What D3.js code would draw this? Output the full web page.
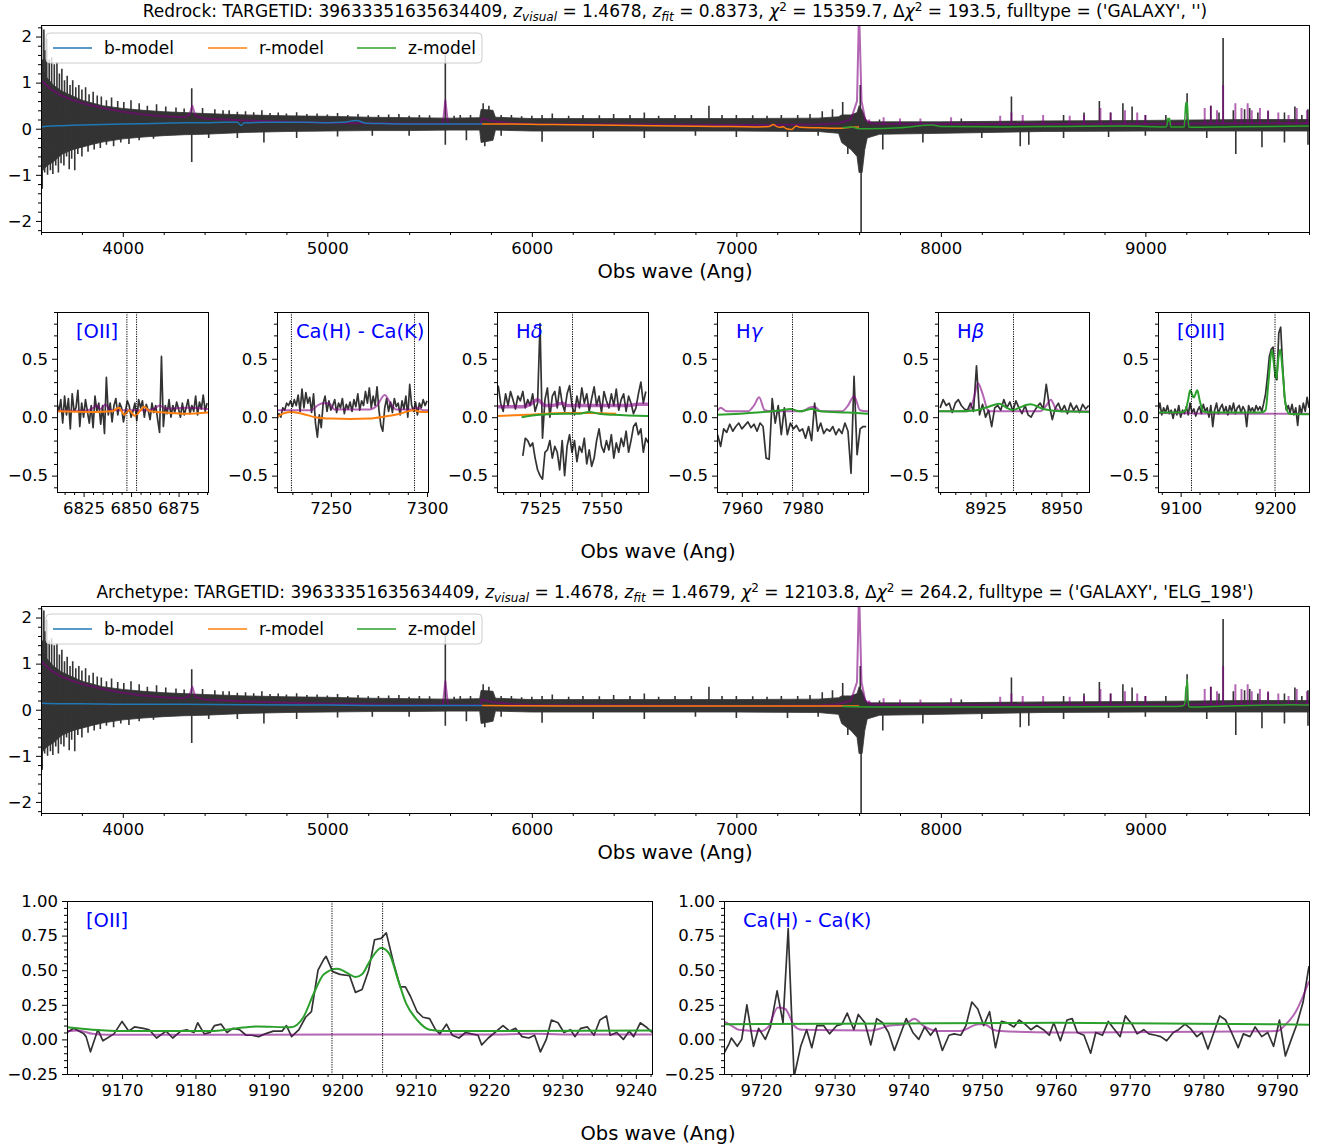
<!DOCTYPE html>
<html><head><meta charset="utf-8">
<script src="https://cdn.jsdelivr.net/npm/d3@7"></script>
<style>
body{margin:0;background:#fff;}
svg text{font-family:"DejaVu Sans",sans-serif;}
</style></head><body>
<svg id="c" width="1325" height="1147"></svg>
<script>
// ---------------- DATA ----------------
// Full-range spectrum (shared by both overview panels)
const bandWave = [3600,3630,3660,3700,3750,3800,3850,3900,4000,4100,4200,4300,4400,4600,4800,5000,5200,5400,5600,5745,5752,5810,5822,6000,6500,7000,7400,7500,7515,7560,7590,7600,7615,7628,7640,7700,8000,8500,9000,9500,9800];
const bandHi = [1.35,1.1,0.95,0.82,0.72,0.62,0.56,0.5,0.44,0.4,0.37,0.35,0.33,0.3,0.28,0.27,0.25,0.24,0.23,0.24,0.42,0.4,0.25,0.22,0.22,0.22,0.23,0.26,0.3,0.3,0.35,0.5,0.4,0.25,0.15,0.15,0.15,0.17,0.18,0.2,0.2];
const bandLo = [-0.95,-0.8,-0.72,-0.56,-0.46,-0.4,-0.34,-0.29,-0.22,-0.18,-0.15,-0.13,-0.12,-0.08,-0.06,-0.05,-0.04,-0.04,-0.03,-0.03,-0.3,-0.25,-0.03,-0.05,-0.05,-0.05,-0.06,-0.1,-0.3,-0.45,-0.6,-0.95,-0.95,-0.45,-0.2,-0.12,-0.1,-0.06,-0.05,-0.05,-0.05];
const blackSpikes = [[3603,2.2],[3608,1.5],[3614,2.15],[3622,1.7],[3628,1.95],[3640,1.5],[3652,1.55],[3665,1.4],[3678,1.45],[3690,1.2],[3702,1.3],[3715,1.05],[3728,1.15],[3742,0.95],[3755,1.05],[3770,0.9],[3785,0.95],[3800,0.85],[3818,0.9],[3835,0.75],[3855,0.8],[3875,0.72],[3895,0.7],[3920,0.62],[3945,0.68],[3975,0.6],[4005,0.58],[4040,0.62],[4080,0.55],[4120,0.5],[4165,0.53],[4210,0.48],[4260,0.46],[4300,0.44],[4337,0.88],[4390,0.45],[4450,0.42],[4490,0.4],[4520,0.4],[4560,0.37],[4600,0.38],[4640,0.36],[4680,0.4],[4720,0.34],[4760,0.35],[4800,0.33],[4850,0.36],[4900,0.32],[4950,0.33],[5000,0.31],[5050,0.34],[5100,0.3],[5150,0.32],[5200,0.29],[5250,0.3],[5300,0.31],[5350,0.32],[5400,0.28],[5450,0.3],[5500,0.29],[5577,1.72],[5620,0.28],[5650,0.3],[5700,0.3],[5762,0.55],[5790,0.5],[5850,0.3],[5900,0.3],[5950,0.27],[6000,0.28],[6050,0.3],[6100,0.33],[6180,0.28],[6250,0.3],[6330,0.29],[6400,0.32],[6480,0.3],[6550,0.35],[6620,0.28],[6700,0.3],[6780,0.3],[6866,0.5],[6930,0.3],[7000,0.3],[7080,0.29],[7150,0.28],[7220,0.3],[7300,0.3],[7360,0.32],[7420,0.38],[7470,0.42],[7520,0.58],[7606,0.95],[7700,0.2],[8100,0.22],[8345,0.7],[8600,0.3],[8700,0.35],[8775,0.6],[8830,0.35],[8890,0.55],[8935,0.48],[9000,0.3],[9100,0.3],[9204,0.77],[9320,0.5],[9360,0.35],[9380,1.97],[9430,0.4],[9485,0.42],[9510,0.45],[9550,0.35],[9600,0.38],[9680,0.35],[9731,0.48],[9765,0.3],[9795,0.42],
 [3606,-1.3],[3618,-0.95],[3632,-1.0],[3646,-0.9],[3658,-0.98],[3672,-0.8],[3685,-0.95],[3698,-0.75],[3712,-0.8],[3725,-0.6],[3738,-0.88],[3750,-0.65],[3765,-0.9],[3780,-0.55],[3800,-0.6],[3830,-0.5],[3860,-0.45],[3890,-0.42],[3920,-0.35],[3955,-0.38],[3990,-0.3],[4030,-0.33],[4080,-0.25],[4150,-0.22],[4337,-0.72],[4420,-0.2],[4560,-0.2],[4690,-0.3],[4850,-0.2],[5050,-0.17],[5220,-0.15],[5400,-0.15],[5577,-0.35],[5680,-0.25],[5770,-0.38],[5850,-0.15],[6050,-0.28],[6300,-0.2],[6550,-0.2],[6800,-0.15],[7000,-0.18],[7250,-0.18],[7400,-0.15],[7545,-0.55],[7610,-2.3],[7716,-0.45],[7912,-0.3],[8200,-0.2],[8388,-0.38],[8430,-0.35],[8600,-0.2],[8820,-0.18],[9000,-0.15],[9300,-0.2],[9442,-0.55],[9570,-0.4],[9680,-0.3],[9795,-0.35]];
const purpleWave = [3600,3650,3700,3750,3800,3900,4000,4100,4200,4300,4325,4340,4355,4400,4500,4600,4800,5000,5200,5400,5565,5577,5590,5750,5757,5800,5900,6000,6500,7000,7400,7500,7560,7590,7600,7612,7630,7660,7700,8000,8300,9000,9800];
const purpleFlux = [1.05,0.85,0.72,0.63,0.56,0.45,0.37,0.31,0.27,0.25,0.3,0.5,0.28,0.22,0.2,0.18,0.15,0.13,0.12,0.11,0.11,0.62,0.11,0.1,0.22,0.17,0.12,0.1,0.09,0.08,0.09,0.12,0.2,0.6,2.6,0.6,0.2,0.12,0.11,0.1,0.1,0.11,0.12];
const purpleSpikes = [[7650,0.2],[7720,0.25],[7800,0.22],[7900,0.22],[8050,0.25],[8290,0.28],[8345,0.35],[8400,0.3],[8500,0.3],[8630,0.28],[8700,0.3],[8780,0.45],[8830,0.35],[8900,0.4],[8960,0.35],[9000,0.3],[9290,0.45],[9320,0.5],[9350,0.4],[9380,0.95],[9440,0.55],[9470,0.45],[9500,0.55],[9520,0.4],[9560,0.45],[9600,0.4],[9650,0.35],[9700,0.3],[9740,0.45],[9790,0.4]];

// Redrock models
const rrBlueWave = [3600,3650,3700,3800,3900,4000,4100,4200,4300,4400,4500,4560,4578,4595,4700,4800,4900,5000,5080,5140,5190,5300,5500,5757];
const rrBlueFlux = [0.04,0.06,0.065,0.08,0.09,0.1,0.11,0.12,0.13,0.13,0.14,0.14,0.07,0.13,0.14,0.14,0.14,0.13,0.14,0.18,0.12,0.11,0.1,0.1];
const rrRedWave = [5757,5900,6100,6300,6500,6700,6900,7100,7160,7180,7200,7215,7228,7245,7270,7293,7310,7400,7500,7560,7600];
const rrRedFlux = [0.1,0.1,0.09,0.08,0.07,0.06,0.05,0.04,0.05,0.09,0.04,0.03,0.045,0.0,-0.015,0.06,0.03,0.02,0.01,0.03,0.04];
const rrGreenWave = [7520,7560,7600,7650,7800,7960,8000,8300,8600,8900,9100,9106,9110,9114,9118,9124,9190,9195,9198,9201.5,9205,9209,9214,9400,9600,9800];
const rrGreenFlux = [0.02,0.04,0.0,0.0,0.02,0.08,0.05,0.04,0.05,0.06,0.04,0.08,0.23,0.17,0.23,0.04,0.04,0.4,0.57,0.33,0.57,0.2,0.03,0.04,0.05,0.06];
// Archetype models
const arBlueWave = [3600,3700,3800,4000,4300,4600,5000,5400,5757];
const arBlueFlux = [0.14,0.13,0.13,0.12,0.12,0.11,0.1,0.09,0.09];
const arRedWave = [5757,6200,6800,7300,7600];
const arRedFlux = [0.09,0.08,0.08,0.08,0.08];
const arGreenWave = [7520,7700,8000,8500,9000,9150,9188,9194,9198.5,9202,9205.3,9210,9214,9400,9600,9715,9800];
const arGreenFlux = [0.07,0.06,0.06,0.06,0.07,0.07,0.09,0.16,0.51,0.45,0.66,0.14,0.06,0.08,0.1,0.11,0.105];

const mainXTicks = [4000,5000,6000,7000,8000,9000];
const mainYTicks = [-2,-1,0,1,2];

// Zoom panels (Redrock, z = 0.8373)
const p1Black = [0.12,0.05,0.15,-0.05,0.18,0.02,0.16,-0.1,0.2,0.05, 0.08,0.23,-0.08,0.12,0.0,0.15,0.05,-0.05,0.1,-0.09, 0.18,0.05,0.12,-0.06,0.1,-0.14,0.34,0.02,0.12,-0.04, 0.1,0.16,0.02,0.12,0.08,-0.04,0.05,0.14,0.1,0.0, 0.05,0.12,-0.03,0.15,0.08,0.14,0.0,0.11,0.06,-0.02, 0.12,0.04,0.1,-0.02,-0.13,0.52,-0.08,0.1,0.03,0.15, 0.0,0.1,0.04,0.13,0.07,0.0,0.12,0.02,0.08,0.15, 0.03,0.1,0.05,0.18,0.02,0.13,0.07,0.19,0.05,0.12];
const p1PurpleWave = [6811,6826,6829,6832,6834,6836.5,6839,6858,6862,6865,6868,6880,6890.5];
const p1PurpleFlux = [0.055,0.055,0.07,0.1,0.07,0.11,0.06,0.06,0.07,0.1,0.075,0.08,0.07];
const p1OrangeWave = [6811,6830,6840,6843.5,6846.5,6849,6852,6854,6857,6860,6868,6879,6890.5];
const p1OrangeFlux = [0.05,0.045,0.05,0.08,0.02,0.06,0.01,0.04,0.09,0.05,0.04,0.03,0.04];

const p2Black = [-0.02,0.03,0.0,0.08,0.06,0.12,0.1,0.14,0.09,0.15, 0.1,0.19,0.05,0.24,0.08,0.21,0.12,0.17,0.04,0.2, -0.05,-0.17,0.02,-0.09,0.12,0.18,0.05,0.14,0.06,0.1, 0.15,0.04,0.12,0.08,0.16,0.03,0.11,0.07,0.13,0.05, 0.15,0.09,0.2,0.06,0.14,0.1,0.22,0.12,0.25,0.08, 0.18,0.1,0.26,0.06,-0.07,-0.12,0.08,0.16,0.05,0.13, 0.04,0.16,0.09,0.12,0.02,0.14,0.07,0.18,0.0,0.28, 0.1,0.05,0.13,0.02,0.12,0.08,0.15,0.1,0.14];
const p2PurpleWave = [7222,7240,7243,7246,7249,7252,7270,7274,7278,7281,7284,7292,7295,7298,7300.5];
const p2PurpleFlux = [0.06,0.06,0.1,0.12,0.12,0.065,0.065,0.1,0.19,0.12,0.065,0.065,0.08,0.06,0.06];
const p2OrangeWave = [7222,7225,7229,7235,7242,7250,7260,7270,7278,7286,7293,7297,7300.5];
const p2OrangeFlux = [0.0,0.03,0.045,0.03,0.0,-0.012,-0.015,-0.012,0.005,0.03,0.06,0.045,0.045];

const p3BlackA = [0.27,0.12,0.05,0.2,0.1,0.22,0.15,0.07,0.18,0.14, 0.22,0.08,0.15,0.1,0.2,0.05,0.12,0.8,-0.18,0.15, 0.25,0.0,0.18,0.22,0.08,0.26,0.12,0.05,0.2,0.27, 0.1,0.02,0.18,0.08,0.25,0.12,0.2,0.05,0.16,0.26, 0.1,0.18,0.04,0.22,0.14,0.08,0.2,0.1,0.24,0.06, 0.15,0.2,0.05,0.18,0.12,0.03,0.08,0.2,0.3,0.12,0.22];
const p3BlackB = [-0.33,-0.18,-0.2,-0.25,-0.22,-0.35,-0.45,-0.5,-0.53,-0.3, -0.28,-0.2,-0.35,-0.25,-0.3,-0.45,-0.2,-0.5,-0.25,-0.15, -0.3,-0.2,-0.38,-0.25,-0.3,-0.18,-0.4,-0.28,-0.42,-0.35, -0.2,-0.1,-0.25,-0.3,-0.2,-0.28,-0.15,-0.35,-0.22,-0.3, -0.18,-0.25,-0.12,-0.3,-0.2,-0.08,-0.05,-0.15,-0.1,-0.3,-0.18,-0.22];
const p3PurpleWave = [7507.5,7518,7521,7524,7527,7530,7532,7534,7536,7540,7560,7565,7568.9];
const p3PurpleFlux = [0.09,0.09,0.11,0.15,0.1,0.1,0.11,0.12,0.1,0.1,0.1,0.11,0.11];
const p3OrangeWave = [7507.5,7520,7535,7545,7556];
const p3OrangeFlux = [0.01,0.02,0.035,0.035,0.03];
const p3GreenWave = [7517.5,7525,7535,7541,7545,7549,7555,7568.9];
const p3GreenFlux = [0.0,0.02,0.03,0.03,0.045,0.03,0.02,0.01];

const p4Black = [-0.15,-0.25,-0.1,-0.13,-0.06,-0.12,-0.08,-0.05,-0.1,-0.07, -0.04,-0.09,-0.06,-0.12,-0.05,-0.08,-0.35,-0.36,0.16,-0.05, 0.1,-0.15,0.08,-0.15,-0.05,-0.1,-0.07,-0.12,-0.1,-0.18, -0.08,-0.2,0.12,-0.12,-0.05,-0.14,-0.1,-0.12,-0.08,-0.15, -0.1,-0.14,-0.05,-0.12,-0.48,0.35,-0.32,-0.1,-0.08,-0.08];
const p4PurpleWave = [7951.8,7953,7955,7962,7964,7965.7,7967.5,7970,7980,7982,7984,7986,7993,7995,7997,7999,8001.6];
const p4PurpleFlux = [0.05,0.08,0.05,0.05,0.1,0.17,0.06,0.05,0.05,0.08,0.09,0.05,0.05,0.1,0.18,0.06,0.05];
const p4GreenWave = [7951.8,7965,7973,7976,7979,7983,7986,7995,8001.6];
const p4GreenFlux = [0.02,0.04,0.06,0.07,0.05,0.07,0.05,0.04,0.03];

const p5Black = [0.08,0.15,0.1,0.12,0.04,0.12,0.15,0.1,0.07,0.06, 0.12,0.05,0.44,0.02,0.11,0.0,0.06,-0.08,0.08,0.1, 0.06,0.15,0.08,0.13,0.05,0.14,0.08,0.03,0.1,0.02, 0.0,0.05,0.09,0.12,0.07,0.28,0.1,-0.02,0.08,0.12, 0.05,0.1,0.03,0.12,0.06,0.1,0.04,0.11,0.07,0.1];
const p5PurpleWave = [8909.3,8919,8921,8922.5,8924,8926,8943,8945,8946.5,8948,8950,8959.1];
const p5PurpleFlux = [0.05,0.05,0.15,0.29,0.2,0.05,0.05,0.1,0.15,0.08,0.05,0.05];
const p5GreenWave = [8909.3,8915,8922,8926,8929.5,8932,8934,8936,8939.8,8944,8950,8959.1];
const p5GreenFlux = [0.05,0.05,0.06,0.09,0.115,0.08,0.06,0.08,0.11,0.07,0.05,0.045];

const p6Black = [0.05,0.12,0.02,0.08,0.04,0.1,0.03,0.06,-0.01,0.07, 0.02,0.1,0.0,0.06,0.03,0.09,0.02,0.12,0.04,0.07, 0.01,0.06,0.09,0.03,0.11,0.05,0.08,0.0,0.1,-0.08, 0.06,0.12,0.03,0.08,0.11,0.04,0.09,0.02,0.1,0.05, 0.12,0.03,0.08,0.1,0.04,0.09,0.06,-0.08,0.1,0.05, 0.08,0.04,0.1,0.06,0.09,0.05,0.12,0.2,0.35,0.52, 0.58,0.6,0.35,0.32,0.72,0.77,0.45,0.18,0.06,0.1, 0.04,0.11,0.02,0.08,-0.07,0.1,0.03,0.12,0.05,0.17, 0.08];
const p6PurpleWave = [9076,9150,9200,9236];
const p6PurpleFlux = [0.035,0.03,0.03,0.03];
const p6GreenWave = [9076,9100,9105,9108,9110,9113.8,9117.7,9120,9124,9130,9185,9190,9193,9196.5,9199,9201.4,9203.5,9205.5,9208,9211,9215,9236];
const p6GreenFlux = [0.04,0.04,0.06,0.15,0.23,0.17,0.23,0.15,0.05,0.04,0.04,0.06,0.3,0.57,0.45,0.33,0.5,0.58,0.4,0.12,0.03,0.025];

// Archetype zoom panels (z = 1.4679)
const bAWave = [9162.5,9163.4,9164.8,9165.1,9165.7,9166.7,9167.4,9168.9,9170,9170.9,9171.7,9172.9,9173.7,9174.7,9176,9176.9,9178,9178.8,9179.8,9180.3,9181.2,9182,9182.6,9183.5,9184.3,9185.1,9186,9186.9,9187.7,9188.6,9189.5,9190.6,9191.8,9192.4,9193.1,9194.1,9195,9195.8,9196.7,9197.5,9197.8,9198.7,9199.7,9201,9201.8,9202.7,9203.6,9204.4,9205.3,9206,9207,9207.9,9208.6,9209.3,9210.2,9211,9211.9,9212.7,9213.3,9214.2,9215,9215.9,9216.8,9217.6,9218.5,9219,9219.9,9220.8,9221.9,9222.8,9223.6,9224.5,9225.4,9226.2,9227,9227.8,9228.5,9229.4,9230.2,9231.1,9231.7,9232.5,9233.4,9234.3,9235.1,9236,9236.5,9237.4,9238.3,9239.1,9239.7,9240.6,9241.4,9242.2];
const bAFlux = [0.05,0.08,0.04,0.02,-0.09,0.07,-0.01,0.04,0.13,0.06, 0.09,0.08,0.07,0.01,0.06,0.01,0.06,0.07,0.05,0.12, 0.04,0.05,0.1,0.11,0.05,0.08,0.07,0.03,0.03,0.02, 0.04,0.06,0.06,0.1,0.02,0.07,0.16,0.2,0.5,0.58, 0.6,0.49,0.47,0.46,0.34,0.36,0.5,0.72,0.73,0.77, 0.55,0.38,0.38,0.31,0.2,0.16,0.15,0.07,0.04,0.11, 0.03,0.01,0.05,0.04,0.03,-0.04,0.01,0.05,0.1,0.06, 0.08,0.02,0.01,0.03,-0.09,0.0,0.14,0.12,0.05,0.07, 0.02,0.08,0.09,0.03,0.14,0.17,0.03,0.05,0.0,0.06, 0.02,0.12,0.09,0.05];
const bAPurpleWave = [9162.5,9164,9166,9168,9200,9220,9226,9232,9242.2];
const bAPurpleFlux = [0.06,0.065,0.04,0.033,0.035,0.035,0.04,0.035,0.035];
const bAGreenWave = [9162.5,9166,9170,9182,9188.4,9193,9194.7,9196.1,9197.5,9199.3,9201,9201.8,9202.7,9203.8,9205.3,9206.4,9207.6,9208.7,9210.2,9211.9,9214,9242.2];
const bAGreenFlux = [0.088,0.07,0.06,0.06,0.093,0.088,0.16,0.33,0.47,0.51,0.47,0.45,0.47,0.57,0.66,0.62,0.43,0.26,0.14,0.07,0.06,0.064];

const bBWave = [9715,9715.7,9716,9716.8,9717.4,9718.1,9719,9719.7,9720.6,9721.3,9722.2,9723,9723.7,9724.5,9725.4,9726.2,9726.9,9727.6,9728.5,9729.3,9730.3,9731,9731.7,9732.6,9733.2,9734.1,9734.9,9735.7,9736.5,9737.3,9738.1,9739,9739.7,9740.6,9741.4,9742.2,9743,9743.7,9744.6,9745.5,9746.2,9747.1,9747.8,9748.6,9749.4,9750.2,9751,9751.8,9752.6,9753.4,9754.3,9755,9755.8,9756.6,9757.4,9758.3,9759.1,9759.7,9760.6,9761.5,9762.2,9762.9,9763.8,9764.7,9765.4,9766.3,9767.1,9767.8,9768.7,9769.4,9770.3,9771,9771.9,9772.6,9773.5,9774.2,9775,9775.9,9776.6,9777.5,9778.2,9779.1,9779.8,9780.6,9781.4,9782.2,9783,9783.8,9784.7,9785.4,9786.3,9787,9787.9,9788.7,9789.5,9790.3,9791.1,9791.9,9792.6,9793.5,9794.3];
const bBFlux = [-0.1,-0.03,0.01,-0.05,0.0,0.25,-0.05,0.08,0.0,0.09, 0.35,0.12,0.8,-0.27,-0.05,0.07,-0.06,0.1,0.1,0.04, 0.1,0.11,0.19,0.07,0.18,0.12,-0.04,0.15,0.12,0.05, -0.08,0.05,0.15,0.05,0.0,0.09,0.03,0.08,-0.08,0.03, 0.04,0.03,0.1,0.27,0.22,0.1,0.2,-0.06,0.13,0.12, 0.09,0.14,0.11,0.07,0.1,0.07,0.03,0.12,-0.01,0.14, 0.15,0.05,0.03,-0.1,0.05,0.03,0.13,0.08,0.02,0.17, 0.11,0.04,0.07,0.04,0.03,0.02,-0.01,0.05,0.07,0.11, 0.08,0.02,0.05,-0.07,0.05,0.17,0.14,0.05,-0.06,0.04, 0.02,0.09,0.02,0.05,-0.05,0.14,-0.12,0.0,0.1,0.27, 0.53];
const bBPurpleWave = [9715,9716,9717,9720,9721,9722.3,9723.3,9724.5,9725.5,9735,9737.5,9739.5,9740.8,9742,9744,9747,9749.5,9750.3,9751.5,9752.5,9760,9790,9791,9792.5,9794.3];
const bBPurpleFlux = [0.13,0.1,0.07,0.06,0.09,0.23,0.22,0.1,0.07,0.065,0.1,0.11,0.15,0.1,0.06,0.06,0.11,0.11,0.07,0.06,0.05,0.06,0.1,0.2,0.42];
const bBGreenWave = [9715,9740,9760,9775,9790,9794.3];
const bBGreenFlux = [0.11,0.115,0.12,0.115,0.11,0.105];

// ---------------- DRAWING ----------------
const C = {black:'#333333', purple:'#800080', blue:'#1f77b4', orange:'#ff7f0e', green:'#2ca02c', label:'#0000ff'};
const FONT = 'DejaVu Sans';
const TICKFS = 16.5;
const svg = d3.select('#c');
let clipN = 0;

function rng(a,b,s){ const out=[]; const n=Math.round((b-a)/s); for(let i=0;i<=n;i++) out.push(+(a+i*s).toFixed(6)); return out; }

function makePanel(x0,y0,w,h,xd,yd){
  const g = svg.append('g').attr('transform',`translate(${x0},${y0})`);
  const x = d3.scaleLinear().domain(xd).range([0,w]);
  const y = d3.scaleLinear().domain(yd).range([h,0]);
  const id='clip'+(clipN++);
  g.append('clipPath').attr('id',id).append('rect').attr('width',w).attr('height',h);
  const plot = g.append('g').attr('clip-path',`url(#${id})`);
  return {g,plot,x,y,w,h,xd,yd};
}
function drawAxes(p, xMaj, xMinStep, xFmt, yMaj, yMinStep, yFmt){
  const inX = v => v>=p.xd[0]-1e-9 && v<=p.xd[1]+1e-9;
  const inY = v => v>=p.yd[0]-1e-9 && v<=p.yd[1]+1e-9;
  const xMin = rng(Math.ceil(p.xd[0]/xMinStep)*xMinStep, Math.floor(p.xd[1]/xMinStep)*xMinStep, xMinStep).filter(v=>inX(v) && !xMaj.some(m=>Math.abs(m-v)<1e-6));
  const yMin = rng(Math.ceil(p.yd[0]/yMinStep-1e-9)*yMinStep, Math.floor(p.yd[1]/yMinStep+1e-9)*yMinStep, yMinStep).filter(v=>inY(v) && !yMaj.some(m=>Math.abs(m-v)<1e-6));
  const ax = p.g.append('g');
  ax.append('g').attr('transform',`translate(0,${p.h})`).call(d3.axisBottom(p.x).tickValues(xMaj.filter(inX)).tickFormat(xFmt).tickSize(5).tickPadding(5));
  ax.append('g').attr('transform',`translate(0,${p.h})`).call(d3.axisBottom(p.x).tickValues(xMin).tickFormat('').tickSize(3));
  ax.append('g').call(d3.axisLeft(p.y).tickValues(yMaj.filter(inY)).tickFormat(yFmt).tickSize(5).tickPadding(4));
  ax.append('g').call(d3.axisLeft(p.y).tickValues(yMin).tickFormat('').tickSize(3));
  ax.selectAll('.domain').remove();
  ax.selectAll('g').attr('font-size',TICKFS).attr('font-family',FONT);
  ax.selectAll('text').attr('fill','#000');
  ax.selectAll('line').attr('stroke','#000').attr('stroke-width',1);
  p.g.append('rect').attr('x',0.5).attr('y',0.5).attr('width',p.w).attr('height',p.h)
    .attr('fill','none').attr('stroke','#000').attr('stroke-width',1);
}
function line(p, wave, flux, color, width, opacity, curve){
  const gen = d3.line().x((d,i)=>p.x(wave[i])).y(d=>p.y(d)).curve(curve||d3.curveLinear);
  p.plot.append('path').datum(flux).attr('d',gen).attr('fill','none').attr('stroke',color)
    .attr('stroke-width',width).attr('stroke-opacity',opacity==null?1:opacity).attr('stroke-linejoin','round');
}
function gridLine(p, start, step, flux, color, width){
  const wave = flux.map((d,i)=>start+i*step);
  line(p, wave, flux, color, width, 1);
}
function vlines(p, waves){
  waves.forEach(w=>{
    p.plot.append('line').attr('x1',p.x(w)).attr('x2',p.x(w)).attr('y1',0).attr('y2',p.h)
      .attr('stroke','#000').attr('stroke-width',1).attr('stroke-dasharray','1.2,1.2');
  });
}
function label(p, parts){
  const t = p.g.append('text').attr('x',19).attr('y',26).attr('fill',C.label).attr('font-size',19.5).attr('font-family',FONT);
  parts.forEach(s=>{ const ts=t.append('tspan').text(s.t); if(s.it) ts.attr('font-style','italic'); });
}
function legend(p){
  const g = p.g.append('g').attr('transform','translate(5,8)');
  g.append('rect').attr('width',436).attr('height',30).attr('rx',4).attr('fill','#fff').attr('fill-opacity',0.8).attr('stroke','#cccccc').attr('stroke-width',1);
  const items = [['b-model',C.blue,7],['r-model',C.orange,162],['z-model',C.green,311]];
  items.forEach(([t,c,x0])=>{
    g.append('line').attr('x1',x0).attr('x2',x0+39).attr('y1',15).attr('y2',15).attr('stroke',c).attr('stroke-width',1.5);
    g.append('text').attr('x',x0+51).attr('y',21).attr('font-size',17).attr('font-family',FONT).text(t);
  });
}
function mathTitle(x, y, parts){
  const t = svg.append('text').attr('x',x).attr('y',y).attr('text-anchor','middle').attr('font-size',17).attr('font-family',FONT).attr('fill','#000');
  let shift = 0;
  parts.forEach(p=>{
    const target = p.sub ? 4 : p.sup ? -6.5 : 0;
    const ts = t.append('tspan').text(p.t).attr('dy', target - shift);
    shift = target;
    if(p.it) ts.attr('font-style','italic');
    if(p.sub||p.sup) ts.attr('font-size',12);
  });
}

function drawMain(y0, models, titleParts, titleY){
  const p = makePanel(41,y0,1268,207,[3600,9800],[-2.24,2.25]);
  const band = bandWave.map((w,i)=>[w,bandHi[i],bandLo[i]]);
  p.plot.append('path').datum(band)
    .attr('d', d3.area().x(d=>p.x(d[0])).y0(d=>p.y(d[2])).y1(d=>p.y(d[1])))
    .attr('fill',C.black).attr('stroke',C.black).attr('stroke-width',0.8);
  p.plot.append('path').attr('d', blackSpikes.map(([w,f])=>`M${p.x(w)},${p.y(0.06)}L${p.x(w)},${p.y(f)}`).join(''))
    .attr('stroke',C.black).attr('stroke-width',1.6).attr('fill','none');
  line(p, purpleWave, purpleFlux, C.purple, 2, 0.6);
  p.plot.append('path').attr('d', purpleSpikes.map(([w,f])=>`M${p.x(w)},${p.y(0.1)}L${p.x(w)},${p.y(f)}`).join(''))
    .attr('stroke',C.purple).attr('stroke-opacity',0.6).attr('stroke-width',2).attr('fill','none');
  models.forEach(m=>line(p, m[0], m[1], m[2], 1.5, 1, d3.curveMonotoneX));
  drawAxes(p, mainXTicks, 200, d3.format('d'), mainYTicks, 0.2, d3.format('d'));
  legend(p);
  mathTitle(675, titleY, titleParts);
  svg.append('text').attr('x',675).attr('y',y0+253).attr('text-anchor','middle').attr('font-size',19.5).attr('font-family',FONT).text('Obs wave (Ang)');
}

drawMain(25, [[rrBlueWave,rrBlueFlux,C.blue],[rrRedWave,rrRedFlux,C.orange],[rrGreenWave,rrGreenFlux,C.green]],
  [{t:'Redrock: TARGETID: 39633351635634409, '},{t:'z',it:1},{t:'visual',it:1,sub:1},{t:' = 1.4678, '},{t:'z',it:1},{t:'fit',it:1,sub:1},{t:' = 0.8373, '},{t:'χ',it:1},{t:'2',sup:1},{t:' = 15359.7, Δ'},{t:'χ',it:1},{t:'2',sup:1},{t:" = 193.5, fulltype = ('GALAXY', '')"}], 17);
drawMain(606, [[arBlueWave,arBlueFlux,C.blue],[arRedWave,arRedFlux,C.orange],[arGreenWave,arGreenFlux,C.green]],
  [{t:'Archetype: TARGETID: 39633351635634409, '},{t:'z',it:1},{t:'visual',it:1,sub:1},{t:' = 1.4678, '},{t:'z',it:1},{t:'fit',it:1,sub:1},{t:' = 1.4679, '},{t:'χ',it:1},{t:'2',sup:1},{t:' = 12103.8, Δ'},{t:'χ',it:1},{t:'2',sup:1},{t:" = 264.2, fulltype = ('GALAXY', 'ELG_198')"}], 598);

// small panels
const smallY = [-0.64, 0.9];
const smallDefs = [
  {x0:57, xd:[6811,6890.5], maj:[6825,6850,6875], minStep:5, lab:[{t:'[OII]'}], vl:[6847.8,6852.9],
   black:[[6811,1,p1Black]], purple:[p1PurpleWave,p1PurpleFlux], models:[[p1OrangeWave,p1OrangeFlux,C.orange]]},
  {x0:277, xd:[7222,7300.5], maj:[7250,7300], minStep:10, lab:[{t:'Ca(H) - Ca(K)'}], vl:[7229.5,7293.5],
   black:[[7222,1,p2Black]], purple:[p2PurpleWave,p2PurpleFlux], models:[[p2OrangeWave,p2OrangeFlux,C.orange]]},
  {x0:497, xd:[7507.5,7568.9], maj:[7525,7550], minStep:5, lab:[{t:'H'},{t:'δ',it:1}], vl:[7538.2],
   black:[[7508,1,p3BlackA],[7518,1,p3BlackB]], purple:[p3PurpleWave,p3PurpleFlux], pw:3.5, models:[[p3OrangeWave,p3OrangeFlux,C.orange],[p3GreenWave,p3GreenFlux,C.green]]},
  {x0:717, xd:[7951.8,8001.6], maj:[7960,7980], minStep:5, lab:[{t:'H'},{t:'γ',it:1}], vl:[7976.7],
   black:[[7952,1,p4Black]], purple:[p4PurpleWave,p4PurpleFlux], models:[[p4GreenWave,p4GreenFlux,C.green]]},
  {x0:938, xd:[8909.3,8959.1], maj:[8925,8950], minStep:5, lab:[{t:'H'},{t:'β',it:1}], vl:[8934.2],
   black:[[8910,1,p5Black]], purple:[p5PurpleWave,p5PurpleFlux], models:[[p5GreenWave,p5GreenFlux,C.green]]},
  {x0:1158, xd:[9076,9236], maj:[9100,9200], minStep:20, lab:[{t:'[OIII]'}], vl:[9111.5,9200],
   black:[[9076,2,p6Black]], purple:[p6PurpleWave,p6PurpleFlux], models:[[p6GreenWave,p6GreenFlux,C.green]]}
];
smallDefs.forEach(d=>{
  const p = makePanel(d.x0,312,151,180,d.xd,smallY);
  d.black.forEach(b=>gridLine(p,b[0],b[1],b[2],C.black,1.7));
  line(p, d.purple[0], d.purple[1], C.purple, d.pw||2, 0.6, d3.curveMonotoneX);
  d.models.forEach(m=>line(p,m[0],m[1],m[2],2,1,d3.curveMonotoneX));
  vlines(p, d.vl);
  drawAxes(p, d.maj, d.minStep, d3.format('d'), [-0.5,0,0.5], 0.1, d3.format('.1f'));
  label(p, d.lab);
});
svg.append('text').attr('x',658).attr('y',558).attr('text-anchor','middle').attr('font-size',19.5).attr('font-family',FONT).text('Obs wave (Ang)');

// bottom panels
const bY = [-0.25, 1.0];
const pA = makePanel(67,901,585,173,[9162.5,9242.2],bY);
line(pA, bAWave, bAFlux, C.black, 1.7, 1);
line(pA, bAPurpleWave, bAPurpleFlux, C.purple, 2, 0.6, d3.curveMonotoneX);
line(pA, bAGreenWave, bAGreenFlux, C.green, 2, 1, d3.curveMonotoneX);
vlines(pA, [9198.6, 9205.5]);
drawAxes(pA, rng(9170,9240,10), 2, d3.format('d'), rng(-0.25,1,0.25), 0.05, d3.format('.2f'));
label(pA, [{t:'[OII]'}]);

const pB = makePanel(724,901,585,173,[9715,9794.3],bY);
line(pB, bBWave, bBFlux, C.black, 1.7, 1);
line(pB, bBPurpleWave, bBPurpleFlux, C.purple, 2, 0.6, d3.curveMonotoneX);
line(pB, bBGreenWave, bBGreenFlux, C.green, 2, 1, d3.curveMonotoneX);
drawAxes(pB, rng(9720,9790,10), 2, d3.format('d'), rng(-0.25,1,0.25), 0.05, d3.format('.2f'));
label(pB, [{t:'Ca(H) - Ca(K)'}]);

svg.append('text').attr('x',658).attr('y',1140).attr('text-anchor','middle').attr('font-size',19.5).attr('font-family',FONT).text('Obs wave (Ang)');
</script></body></html>
